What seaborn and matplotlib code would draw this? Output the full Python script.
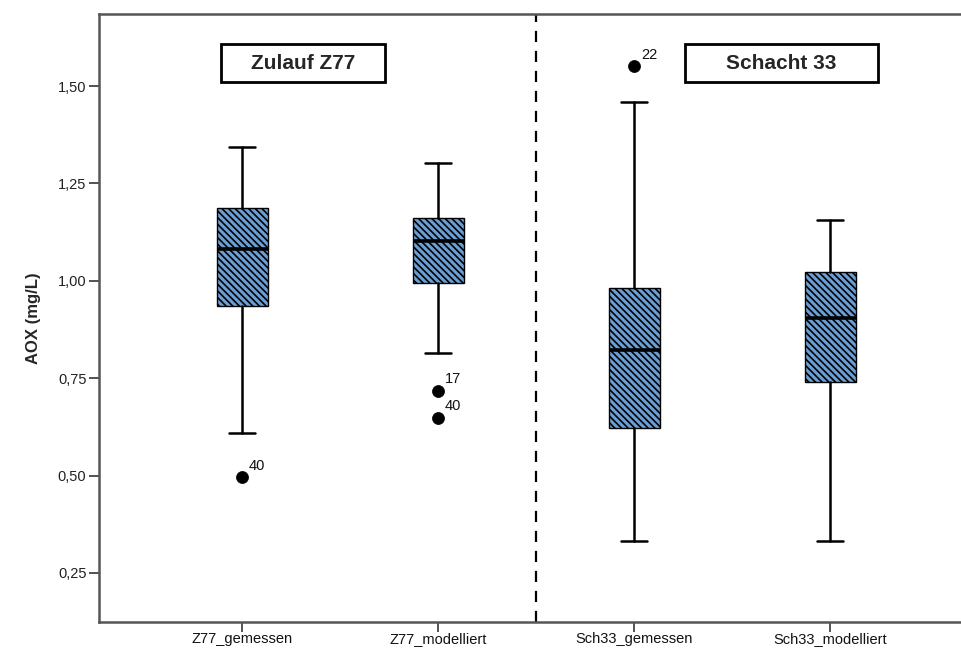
import matplotlib
matplotlib.use("Agg")
import matplotlib.pyplot as plt
from matplotlib.patches import Rectangle
import seaborn as sns

# Box summaries per series (AOX in mg/L)
categories = ["Z77_gemessen", "Z77_modelliert", "Sch33_gemessen", "Sch33_modelliert"]
whisker_low = [0.610, 0.815, 0.333, 0.331]
q1 = [0.936, 0.995, 0.623, 0.741]
median = [1.082, 1.103, 0.823, 0.905]
q3 = [1.187, 1.162, 0.982, 1.023]
whisker_high = [1.344, 1.303, 1.459, 1.156]

# Outliers with their case numbers
outlier_group = ["Z77_gemessen", "Z77_modelliert", "Z77_modelliert", "Sch33_gemessen"]
outlier_value = [0.497, 0.718, 0.649, 1.551]
outlier_case = ["40", "17", "40", "22"]

y_ticks = [0.25, 0.50, 0.75, 1.00, 1.25, 1.50]
group_titles = ["Zulauf Z77", "Schacht 33"]

sns.set_style("white")
plt.rcParams["font.family"] = ["Liberation Sans", "DejaVu Sans"]
plt.rcParams["hatch.linewidth"] = 1.2

fig = plt.figure(figsize=(9.62, 6.48), dpi=100)
ax = fig.add_axes([0.1029, 0.0401, 0.8971, 0.9383])

stats = []
for i, name in enumerate(categories):
    stats.append(dict(label=name, whislo=whisker_low[i], q1=q1[i], med=median[i],
                      q3=q3[i], whishi=whisker_high[i], fliers=[]))

bp = ax.bxp(stats, positions=range(len(categories)), widths=0.26, patch_artist=True,
            showfliers=False, capwidths=0.13,
            boxprops=dict(facecolor="#6a9fd6", edgecolor="black", linewidth=1.0,
                          hatch="\\\\\\\\\\"),
            medianprops=dict(color="black", linewidth=2.6),
            whiskerprops=dict(color="black", linewidth=1.8),
            capprops=dict(color="black", linewidth=1.8))

# Outlier points
out_x = [categories.index(g) for g in outlier_group]
sns.scatterplot(x=out_x, y=outlier_value, ax=ax, color="black", s=75,
                edgecolor="black", linewidth=0.5, zorder=5, legend=False)
for x, y, lab in zip(out_x, outlier_value, outlier_case):
    ax.annotate(lab, (x, y), xytext=(5, 3), textcoords="offset points",
                ha="left", va="bottom", fontsize=10.5, color="#111111")

# Separator between the two measuring points
ax.axvline(1.5, color="black", linestyle=(0, (5, 4)), linewidth=1.6)

# Group title boxes
title_boxes = [(-0.107, 1.510, 0.837, 0.098), (2.260, 1.510, 0.985, 0.098)]
for (bx, by, bw, bh), title in zip(title_boxes, group_titles):
    ax.add_patch(Rectangle((bx, by), bw, bh, facecolor="white", edgecolor="black",
                           linewidth=2.0, zorder=6))
    ax.text(bx + bw / 2, by + bh / 2, title, ha="center", va="center",
            fontsize=15, fontweight="bold", zorder=7)

ax.set_xlim(-0.73, 3.673)
ax.set_ylim(0.124, 1.685)
ax.set_xticks(range(len(categories)))
ax.set_xticklabels(categories, fontsize=10.5, color="#111111")
ax.set_yticks(y_ticks)
ax.set_yticklabels([f"{v:.2f}".replace(".", ",") for v in y_ticks], fontsize=10.5, color="#222222")
ax.set_ylabel("AOX (mg/L)", fontsize=12, fontweight="bold", labelpad=12)

for side in ["left", "bottom", "top"]:
    ax.spines[side].set_color("#555555")
    ax.spines[side].set_linewidth(1.8)
ax.spines["right"].set_visible(False)
ax.tick_params(axis="both", direction="out", length=7, width=1.3, color="#444444",
               bottom=True, left=True)
ax.tick_params(axis="y", pad=2)
ax.tick_params(axis="x", pad=0.5)

fig.savefig("out.png", dpi=100)
